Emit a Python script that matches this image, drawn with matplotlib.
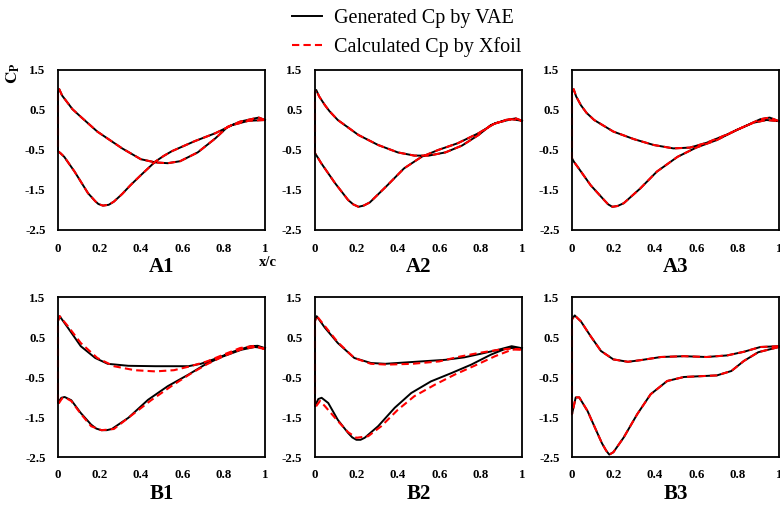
import matplotlib
matplotlib.use("Agg")
import matplotlib.pyplot as plt

plt.rcParams['font.family'] = ['Liberation Serif', 'DejaVu Serif']
plt.rcParams['mathtext.fontset'] = 'stix'

# ---- data: x/c and Cp, upper and lower surface ----
# A1
a1_up_x = [0.0, 0.006, 0.02, 0.048, 0.07, 0.11, 0.19, 0.31, 0.40, 0.47, 0.53, 0.59, 0.675, 0.76, 0.82, 0.88, 0.95, 0.97, 1.0]
a1_up_cp = [0.95, 1.02, 0.86, 0.67, 0.52, 0.33, -0.04, -0.46, -0.73, -0.81, -0.83, -0.78, -0.56, -0.21, 0.08, 0.21, 0.29, 0.31, 0.25]
a1_lo_x = [0.0, 0.012, 0.03, 0.08, 0.145, 0.18, 0.195, 0.217, 0.245, 0.27, 0.31, 0.35, 0.40, 0.47, 0.51, 0.55, 0.66, 0.76, 0.84, 0.92, 1.0]
a1_lo_cp = [-0.53, -0.58, -0.67, -1.04, -1.58, -1.78, -1.85, -1.89, -1.87, -1.79, -1.6, -1.38, -1.13, -0.79, -0.65, -0.53, -0.28, -0.08, 0.12, 0.23, 0.25]

# A2
a2_up_x = [0.0, 0.006, 0.02, 0.048, 0.07, 0.11, 0.21, 0.305, 0.40, 0.48, 0.55, 0.63, 0.71, 0.79, 0.85, 0.92, 0.97, 1.0]
a2_up_cp = [0.95, 1.0, 0.84, 0.62, 0.47, 0.25, -0.125, -0.375, -0.56, -0.64, -0.64, -0.56, -0.39, -0.125, 0.125, 0.25, 0.29, 0.23]
a2_lo_x = [0.0, 0.01, 0.03, 0.097, 0.16, 0.185, 0.21, 0.235, 0.265, 0.35, 0.43, 0.515, 0.595, 0.69, 0.79, 0.87, 0.95, 1.0]
a2_lo_cp = [-0.58, -0.66, -0.83, -1.33, -1.75, -1.86, -1.92, -1.89, -1.81, -1.38, -0.96, -0.67, -0.5, -0.33, -0.08, 0.17, 0.27, 0.23]

# A3
a3_up_x = [0.0, 0.008, 0.02, 0.043, 0.07, 0.107, 0.2, 0.3, 0.395, 0.49, 0.57, 0.65, 0.75, 0.83, 0.91, 0.955, 1.0]
a3_up_cp = [0.95, 1.02, 0.84, 0.62, 0.43, 0.25, -0.04, -0.23, -0.375, -0.46, -0.44, -0.32, -0.11, 0.08, 0.27, 0.31, 0.22]
a3_lo_x = [0.0, 0.01, 0.027, 0.09, 0.155, 0.175, 0.195, 0.22, 0.25, 0.33, 0.41, 0.51, 0.6, 0.7, 0.795, 0.875, 0.94, 1.0]
a3_lo_cp = [-0.71, -0.8, -0.92, -1.38, -1.75, -1.86, -1.92, -1.9, -1.83, -1.46, -1.04, -0.67, -0.44, -0.25, 0.0, 0.18, 0.25, 0.22]

# B1
b1_up_x = [0.0, 0.008, 0.048, 0.11, 0.18, 0.24, 0.34, 0.47, 0.63, 0.69, 0.77, 0.85, 0.93, 0.965, 1.0]
b1_up_cp = [0.9, 1.02, 0.73, 0.27, -0.025, -0.17, -0.22, -0.23, -0.23, -0.17, -0.025, 0.14, 0.27, 0.28, 0.22]
b1_lo_x = [0.0, 0.016, 0.032, 0.064, 0.11, 0.16, 0.185, 0.21, 0.235, 0.26, 0.34, 0.435, 0.53, 0.63, 0.71, 0.79, 0.885, 0.95, 1.0]
b1_lo_cp = [-1.15, -1.02, -1.0, -1.08, -1.4, -1.69, -1.79, -1.83, -1.83, -1.8, -1.52, -1.07, -0.73, -0.44, -0.19, 0.0, 0.18, 0.25, 0.22]
b1_xf_up_x = [0.0, 0.008, 0.048, 0.11, 0.19, 0.27, 0.37, 0.47, 0.56, 0.64, 0.72, 0.80, 0.88, 0.95, 1.0]
b1_xf_up_cp = [0.9, 1.02, 0.77, 0.35, -0.025, -0.23, -0.33, -0.36, -0.33, -0.23, -0.11, 0.06, 0.225, 0.28, 0.2]
b1_xf_lo_x = [0.0, 0.02, 0.04, 0.064, 0.11, 0.16, 0.21, 0.27, 0.35, 0.45, 0.55, 0.64, 0.72, 0.80, 0.89, 0.95, 1.0]
b1_xf_lo_cp = [-1.19, -1.03, -1.03, -1.1, -1.42, -1.73, -1.83, -1.8, -1.48, -1.08, -0.72, -0.42, -0.18, 0.02, 0.2, 0.25, 0.2]

# B2
b2_up_x = [0.0, 0.008, 0.048, 0.11, 0.19, 0.27, 0.34, 0.47, 0.63, 0.72, 0.8, 0.885, 0.95, 1.0]
b2_up_cp = [0.9, 1.02, 0.73, 0.35, -0.025, -0.15, -0.17, -0.125, -0.07, -0.01, 0.08, 0.18, 0.27, 0.22]
b2_lo_x = [0.0, 0.016, 0.032, 0.064, 0.11, 0.16, 0.18, 0.2, 0.22, 0.24, 0.305, 0.385, 0.465, 0.56, 0.66, 0.755, 0.85, 0.93, 1.0]
b2_lo_cp = [-1.23, -1.05, -1.02, -1.15, -1.57, -1.9, -2.01, -2.07, -2.07, -2.02, -1.73, -1.27, -0.9, -0.61, -0.4, -0.19, 0.06, 0.225, 0.22]
b2_xf_up_x = [0.0, 0.008, 0.048, 0.11, 0.19, 0.27, 0.35, 0.47, 0.6, 0.69, 0.79, 0.885, 0.95, 1.0]
b2_xf_up_cp = [0.9, 1.03, 0.77, 0.37, -0.025, -0.17, -0.19, -0.17, -0.11, 0.0, 0.1, 0.18, 0.21, 0.18]
b2_xf_lo_x = [0.0, 0.024, 0.048, 0.11, 0.16, 0.2, 0.257, 0.32, 0.4, 0.48, 0.58, 0.675, 0.77, 0.87, 0.95, 1.0]
b2_xf_lo_cp = [-1.27, -1.1, -1.23, -1.6, -1.88, -2.02, -1.98, -1.73, -1.32, -0.98, -0.69, -0.44, -0.22, 0.02, 0.18, 0.2]

# B3
b3_up_x = [0.0, 0.013, 0.043, 0.09, 0.14, 0.2, 0.27, 0.33, 0.43, 0.54, 0.65, 0.75, 0.83, 0.91, 1.0]
b3_up_cp = [0.94, 1.04, 0.89, 0.52, 0.15, -0.06, -0.12, -0.08, 0.0, 0.02, 0.0, 0.04, 0.13, 0.25, 0.27]
b3_lo_x = [0.0, 0.018, 0.035, 0.075, 0.125, 0.145, 0.165, 0.18, 0.2, 0.25, 0.315, 0.38, 0.46, 0.54, 0.62, 0.70, 0.77, 0.83, 0.9, 1.0]
b3_lo_cp = [-1.43, -1.01, -1.01, -1.35, -1.93, -2.16, -2.34, -2.44, -2.38, -2.01, -1.43, -0.93, -0.6, -0.5, -0.48, -0.46, -0.35, -0.1, 0.12, 0.25]

panel_names = ['A1', 'A2', 'A3', 'B1', 'B2', 'B3']
# (vae upper, vae lower, xfoil upper, xfoil lower); Xfoil overlaps VAE for A1-A3, B3
panels = [
    ((a1_up_x, a1_up_cp), (a1_lo_x, a1_lo_cp), (a1_up_x, a1_up_cp), (a1_lo_x, a1_lo_cp)),
    ((a2_up_x, a2_up_cp), (a2_lo_x, a2_lo_cp), (a2_up_x, a2_up_cp), (a2_lo_x, a2_lo_cp)),
    ((a3_up_x, a3_up_cp), (a3_lo_x, a3_lo_cp), (a3_up_x, a3_up_cp), (a3_lo_x, a3_lo_cp)),
    ((b1_up_x, b1_up_cp), (b1_lo_x, b1_lo_cp), (b1_xf_up_x, b1_xf_up_cp), (b1_xf_lo_x, b1_xf_lo_cp)),
    ((b2_up_x, b2_up_cp), (b2_lo_x, b2_lo_cp), (b2_xf_up_x, b2_xf_up_cp), (b2_xf_lo_x, b2_xf_lo_cp)),
    ((b3_up_x, b3_up_cp), (b3_lo_x, b3_lo_cp), (b3_up_x, b3_up_cp), (b3_lo_x, b3_lo_cp)),
]

x_ticks = [0, 0.2, 0.4, 0.6, 0.8, 1]
x_labels = ['0', '0.2', '0.4', '0.6', '0.8', '1']
y_ticks = [1.5, 0.5, -0.5, -1.5, -2.5]
y_labels = ['1.5', '0.5', '-0.5', '-1.5', '-2.5']


def loop(up, lo):
    # trailing edge -> leading edge on the upper side, then back along the lower side
    xs = list(up[0][::-1]) + list(lo[0])
    ys = list(up[1][::-1]) + list(lo[1])
    return xs, ys


fig = plt.figure(figsize=(7.8, 5.07), dpi=100)

lefts = [58 / 780, 315 / 780, 572 / 780]
bottoms = [1 - 230 / 507, 1 - 457 / 507]
w = 207 / 780
h = 160 / 507

axes = []
for i, name in enumerate(panel_names):
    r, c = divmod(i, 3)
    ax = fig.add_axes([lefts[c], bottoms[r], w, h])
    vu, vl, xu, xl = panels[i]
    xs, ys = loop(vu, vl)
    ax.plot(xs, ys, color='black', lw=1.4, clip_on=False, label='Generated Cp by VAE')
    xs, ys = loop(xu, xl)
    ax.plot(xs, ys, color='red', lw=1.5, ls='--', dashes=(3.5, 2), clip_on=False,
            label='Calculated Cp by Xfoil')
    ax.set_xlim(0, 1)
    ax.set_ylim(-2.5, 1.5)
    ax.set_xticks(x_ticks)
    ax.set_xticklabels(x_labels, fontweight='bold', fontsize=9.3)
    ax.set_yticks(y_ticks)
    ax.set_yticklabels(y_labels, fontweight='bold', fontsize=9.3)
    ax.tick_params(length=0, pad=9)
    for s in ax.spines.values():
        s.set_linewidth(1.3)
    ax.text(0.5, -0.23, name, transform=ax.transAxes, ha='center', va='center',
            fontsize=15, fontweight='bold')
    axes.append(ax)

fig.text(268 / 780, 1 - 262 / 507, 'x/c', ha='center', va='center', fontsize=10.5, fontweight='bold')
fig.text(13 / 780, 1 - 73 / 507, r'$\mathbf{C_P}$', rotation=90, ha='center', va='center', fontsize=12)

handles, labels = axes[0].get_legend_handles_labels()
fig.legend(handles, labels, loc='upper left', bbox_to_anchor=(290 / 780, 1 - 7 / 507),
           frameon=False, fontsize=14.5, handlelength=1.5, handletextpad=0.6,
           labelspacing=0.45, borderpad=0.1, borderaxespad=0)

fig.savefig('out.png', dpi=100)
